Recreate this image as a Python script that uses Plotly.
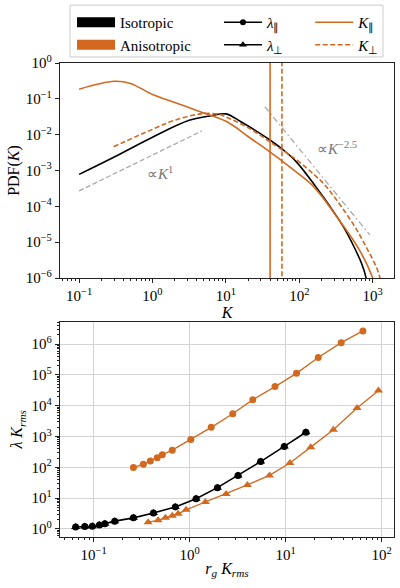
import plotly.graph_objects as go

ORANGE = "#d2691e"
FONT = "Liberation Serif, Times New Roman, serif"
DASH = "5px,2.5px"
DASHDOT = "6px,3px,1.5px,3px"

# top panel: PDF(K)
k_iso = [0.1, 0.316, 1, 3.16, 6.31, 10, 15.8, 25.1, 39.8, 63.1, 91.2, 162, 251, 398, 562, 708, 813, 860]
pdf_iso = [7.8e-4, 2.5e-3, 8.5e-3, 0.0251, 0.0339, 0.038, 0.0234, 0.0132, 7.1e-3, 3.5e-3,
           1.74e-3, 3.9e-4, 1.12e-4, 2.7e-5, 7.1e-6, 2.5e-6, 1.0e-6, 4e-7]

k_par = [0.1, 0.302, 0.501, 1, 2, 4.47, 6.03, 11.2, 20, 39.8, 79.4, 158, 324, 661, 1000, 1122]
pdf_par = [0.186, 0.309, 0.269, 0.132, 0.0794, 0.0437, 0.0355, 0.0209, 0.0089, 0.0033,
           0.00112, 3.5e-4, 5.1e-5, 6.0e-6, 1.0e-6, 4e-7]

k_perp = [0.295, 1, 2, 4.47, 7.94, 11.2, 20, 39.8, 91.2, 162, 224, 537, 813, 1122, 1259, 1349]
pdf_perp = [4.6e-3, 0.0141, 0.0251, 0.038, 0.0372, 0.0282, 0.0158, 6.3e-3, 2.0e-3, 7.4e-4,
            3.9e-4, 3.3e-5, 7.4e-6, 2.0e-6, 1.0e-6, 5e-7]

k_rms_par = 40
k_rms_perp = 58

slope1_k = [0.1, 4.7]
slope1_pdf = [2.7e-4, 0.0127]
slope25_k = [34, 912]
slope25_pdf = [0.060, 1.6e-5]

# bottom panel: lambda K_rms vs r_g K_rms
rg_iso = [0.065, 0.081, 0.097, 0.115, 0.131, 0.166, 0.26, 0.42, 0.71, 1.17, 1.95, 3.2, 5.5, 9.7, 16.3]
lam_iso = [1.16, 1.2, 1.23, 1.35, 1.48, 1.8, 2.3, 3.3, 5.2, 9.6, 22, 55, 154, 480, 1380]

rg_par = [0.26, 0.33, 0.39, 0.46, 0.52, 0.66, 1.03, 1.68, 2.82, 4.56, 7.77, 13, 21.9, 38, 64]
lam_par = [100, 126, 162, 204, 257, 363, 810, 2000, 5500, 15800, 42000, 113000, 372000, 1.12e6, 2.7e6]

rg_perp = [0.37, 0.47, 0.56, 0.66, 0.76, 0.92, 1.46, 2.4, 4.0, 6.8, 11.1, 18.3, 31.5, 55.6, 93]
lam_perp = [1.67, 1.92, 2.33, 2.7, 3.1, 4.2, 7.5, 13.7, 27, 55, 138, 455, 1660, 8500, 31600]

top_xticks = [0.1, 1, 10, 100, 1000]
top_xtext = ["10<sup>−1</sup>", "10<sup>0</sup>", "10<sup>1</sup>", "10<sup>2</sup>", "10<sup>3</sup>"]
top_yticks = [1e-6, 1e-5, 1e-4, 1e-3, 1e-2, 1e-1, 1]
top_ytext = ["10<sup>−6</sup>", "10<sup>−5</sup>", "10<sup>−4</sup>", "10<sup>−3</sup>",
             "10<sup>−2</sup>", "10<sup>−1</sup>", "10<sup>0</sup>"]
bot_xticks = [0.1, 1, 10, 100]
bot_xtext = ["10<sup>−1</sup>", "10<sup>0</sup>", "10<sup>1</sup>", "10<sup>2</sup>"]
bot_yticks = [1, 10, 100, 1e3, 1e4, 1e5, 1e6]
bot_ytext = ["10<sup>0</sup>", "10<sup>1</sup>", "10<sup>2</sup>", "10<sup>3</sup>",
             "10<sup>4</sup>", "10<sup>5</sup>", "10<sup>6</sup>"]


def minor_vals(lo, hi):
    return [m * 10.0 ** e for e in range(lo, hi) for m in range(2, 10)]


fig = go.Figure()

# legend-only entries, one legend per column
fig.add_trace(go.Scatter(x=[None], y=[None], mode="lines", name="Isotropic", legend="legend",
                         line=dict(color="black", width=10)))
fig.add_trace(go.Scatter(x=[None], y=[None], mode="lines", name="Anisotropic", legend="legend",
                         line=dict(color=ORANGE, width=10)))
fig.add_trace(go.Scatter(x=[None], y=[None], mode="lines+markers", name="<i>λ</i><sub>∥</sub>",
                         legend="legend2", line=dict(color="black", width=1.5),
                         marker=dict(symbol="circle", size=6, color="black")))
fig.add_trace(go.Scatter(x=[None], y=[None], mode="lines+markers", name="<i>λ</i><sub>⊥</sub>",
                         legend="legend2", line=dict(color="black", width=1.5),
                         marker=dict(symbol="triangle-up", size=7, color="black")))
fig.add_trace(go.Scatter(x=[None], y=[None], mode="lines", name="<i>K</i><sub>∥</sub>",
                         legend="legend3", line=dict(color=ORANGE, width=1.5)))
fig.add_trace(go.Scatter(x=[None], y=[None], mode="lines", name="<i>K</i><sub>⊥</sub>",
                         legend="legend3", line=dict(color=ORANGE, width=1.5, dash=DASH)))

# top panel
fig.add_trace(go.Scatter(x=slope1_k, y=slope1_pdf, mode="lines", showlegend=False,
                         line=dict(color="#aaaaaa", width=1.3, dash=DASH)))
fig.add_trace(go.Scatter(x=slope25_k, y=slope25_pdf, mode="lines", showlegend=False,
                         line=dict(color="#aaaaaa", width=1.3, dash=DASHDOT)))
fig.add_trace(go.Scatter(x=k_iso, y=pdf_iso, mode="lines", showlegend=False,
                         line=dict(color="black", width=1.6, shape="spline")))
fig.add_trace(go.Scatter(x=k_par, y=pdf_par, mode="lines", showlegend=False,
                         line=dict(color=ORANGE, width=1.6, shape="spline")))
fig.add_trace(go.Scatter(x=k_perp, y=pdf_perp, mode="lines", showlegend=False,
                         line=dict(color=ORANGE, width=1.6, dash=DASH, shape="spline")))
fig.add_trace(go.Scatter(x=[k_rms_par, k_rms_par], y=[1e-7, 10], mode="lines", showlegend=False,
                         line=dict(color=ORANGE, width=1.6)))
fig.add_trace(go.Scatter(x=[k_rms_perp, k_rms_perp], y=[1e-7, 10], mode="lines", showlegend=False,
                         line=dict(color=ORANGE, width=1.6, dash=DASH)))

# bottom panel
fig.add_trace(go.Scatter(x=rg_iso, y=lam_iso, mode="lines+markers", showlegend=False,
                         xaxis="x2", yaxis="y2", line=dict(color="black", width=1.6),
                         marker=dict(symbol="circle", size=7, color="black")))
fig.add_trace(go.Scatter(x=rg_iso, y=lam_iso, mode="markers", showlegend=False,
                         xaxis="x2", yaxis="y2",
                         marker=dict(symbol="triangle-up", size=8, color="black")))
fig.add_trace(go.Scatter(x=rg_par, y=lam_par, mode="lines+markers", showlegend=False,
                         xaxis="x2", yaxis="y2", line=dict(color=ORANGE, width=1.3),
                         marker=dict(symbol="circle", size=7, color=ORANGE)))
fig.add_trace(go.Scatter(x=rg_perp, y=lam_perp, mode="lines+markers", showlegend=False,
                         xaxis="x2", yaxis="y2", line=dict(color=ORANGE, width=1.3),
                         marker=dict(symbol="triangle-up", size=8, color=ORANGE)))

fig.add_annotation(x=0.1, y=-3.07, xref="x", yref="y", text="∝<i>K</i><sup>1</sup>",
                   showarrow=False, font=dict(family=FONT, size=15, color="#777777"))
fig.add_annotation(x=2.52, y=-2.37, xref="x", yref="y", text="∝<i>K</i><sup>−2.5</sup>",
                   showarrow=False, font=dict(family=FONT, size=15, color="#777777"))

# frame around the three legend columns
fig.add_shape(type="rect", xref="paper", yref="paper", x0=0.03, x1=0.967, y0=1.0127, y1=1.122,
              line=dict(color="#cccccc", width=1), fillcolor="white", layer="above")

axis_common = dict(type="log", showline=True, mirror=True, linecolor="#222222", linewidth=1.3,
                   ticks="outside", ticklen=4, tickcolor="#222222", zeroline=False,
                   tickmode="array", tickfont=dict(family=FONT, size=15, color="black"))
title_font = dict(family=FONT, size=16, color="black")
legend_common = dict(orientation="v", yanchor="top", y=1.12, xanchor="left", itemwidth=38,
                     bgcolor="rgba(0,0,0,0)", borderwidth=0, tracegroupgap=0,
                     font=dict(family=FONT, size=15, color="black"))

fig.update_layout(
    width=400, height=588,
    margin=dict(l=60, r=6, t=63, b=51),
    plot_bgcolor="white", paper_bgcolor="white",
    font=dict(family=FONT, size=14, color="black"),
    xaxis=dict(axis_common, domain=[0, 1], anchor="y", range=[-1.26, 3.29],
               tickvals=top_xticks, ticktext=top_xtext, showgrid=False,
               minor=dict(ticks="outside", ticklen=2, tickcolor="#222222",
                          tickmode="array", tickvals=minor_vals(-2, 4), showgrid=False),
               title=dict(text="<i>K</i>", font=title_font, standoff=0)),
    yaxis=dict(axis_common, domain=[0.5464, 1], anchor="x", range=[-6, 0],
               tickvals=top_yticks, ticktext=top_ytext, showgrid=False,
               title=dict(text="PDF(<i>K</i>)", font=title_font, standoff=2)),
    xaxis2=dict(axis_common, domain=[0, 1], anchor="y2", range=[-1.35, 2.13],
                tickvals=bot_xticks, ticktext=bot_xtext, showgrid=True,
                gridcolor="#d4d4d4", gridwidth=1.2,
                minor=dict(ticks="outside", ticklen=2, tickcolor="#222222",
                           tickmode="array", tickvals=minor_vals(-2, 3), showgrid=False),
                title=dict(text="<i>r</i><sub><i>g</i></sub> <i>K</i><sub><i>rms</i></sub>",
                           font=title_font, standoff=0)),
    yaxis2=dict(axis_common, domain=[0, 0.4542], anchor="x2", range=[-0.26, 6.73],
                tickvals=bot_yticks, ticktext=bot_ytext, showgrid=True,
                gridcolor="#d4d4d4", gridwidth=1.2,
                minor=dict(ticks="outside", ticklen=2, tickcolor="#222222",
                           tickmode="array", tickvals=minor_vals(-1, 7), showgrid=False),
                title=dict(text="<i>λ</i> <i>K</i><sub><i>rms</i></sub>",
                           font=title_font, standoff=4)),
    legend=dict(legend_common, x=0.036),
    legend2=dict(legend_common, x=0.476),
    legend3=dict(legend_common, x=0.749),
)

# the page body has a default 8px margin; drop it so the figure sits at the window corner
fig.write_html("out.html", config={"displayModeBar": False},
               post_script="document.body.style.margin='0';")
